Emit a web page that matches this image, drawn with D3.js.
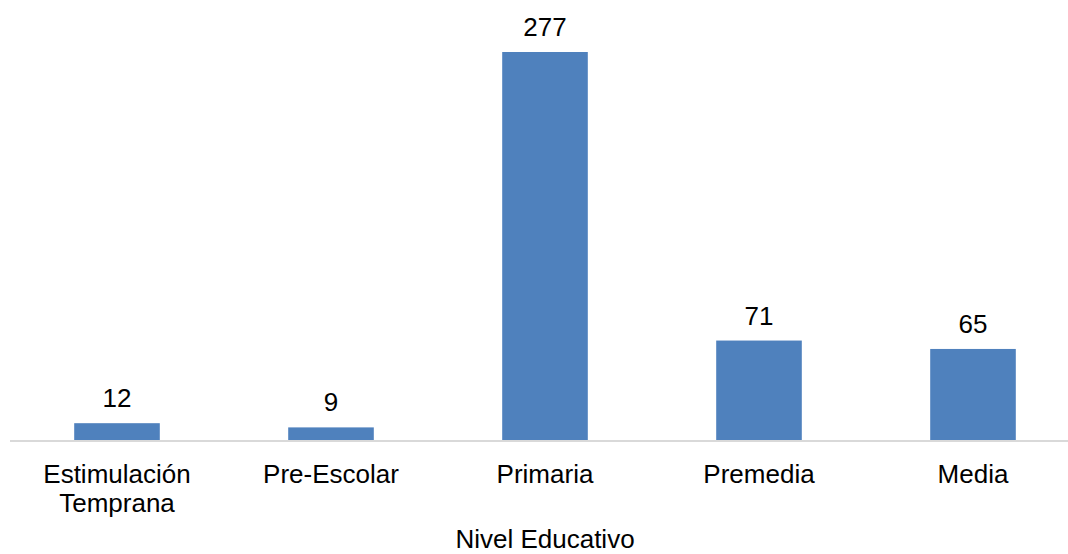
<!DOCTYPE html>
<html>
<head>
<meta charset="utf-8">
<script src="https://cdn.jsdelivr.net/npm/d3@7"></script>
<style>
  html, body { margin: 0; padding: 0; background: #fff; }
  svg { display: block; font-family: "Liberation Sans", Arial, sans-serif; }
</style>
</head>
<body>
<svg id="chart" width="1068" height="554"></svg>
<script>
const categories = [["Estimulación", "Temprana"], ["Pre-Escolar"], ["Primaria"], ["Premedia"], ["Media"]];
const values = [12, 9, 277, 71, 65];
const xTitle = "Nivel Educativo";

const W = 1068, H = 554;
const baseY = 440;
const svg = d3.select("#chart");

const keys = categories.map((c, i) => i);
const x = d3.scaleBand().domain(keys).range([10, 1080]).paddingInner(0.6).paddingOuter(0.3);
const y = d3.scaleLinear().domain([0, 277]).range([baseY, 52]);

svg.selectAll("rect.bar").data(values).join("rect")
  .attr("class", "bar")
  .attr("x", (d, i) => x(i))
  .attr("width", x.bandwidth())
  .attr("y", d => y(d))
  .attr("height", d => baseY - y(d))
  .attr("fill", "#4f81bd");

svg.append("line")
  .attr("x1", 10).attr("x2", W)
  .attr("y1", baseY + 1).attr("y2", baseY + 1)
  .attr("stroke", "#d9d9d9").attr("stroke-width", 2);

svg.selectAll("text.val").data(values).join("text")
  .attr("class", "val")
  .attr("x", (d, i) => x(i) + x.bandwidth() / 2)
  .attr("y", d => y(d) - 16)
  .attr("text-anchor", "middle")
  .attr("font-size", 26)
  .attr("fill", "#000")
  .text(d => d);

const cat = svg.selectAll("text.cat").data(categories).join("text")
  .attr("class", "cat")
  .attr("x", (d, i) => x(i) + x.bandwidth() / 2)
  .attr("y", 483)
  .attr("text-anchor", "middle")
  .attr("font-size", 26)
  .attr("fill", "#000");
cat.selectAll("tspan").data(d => d).join("tspan")
  .attr("x", function() { return d3.select(this.parentNode).attr("x"); })
  .attr("dy", (d, j) => j === 0 ? 0 : 29)
  .text(d => d);

svg.append("text")
  .attr("x", 545)
  .attr("y", 548)
  .attr("text-anchor", "middle")
  .attr("font-size", 26)
  .attr("fill", "#000")
  .text(xTitle);
</script>
</body>
</html>
